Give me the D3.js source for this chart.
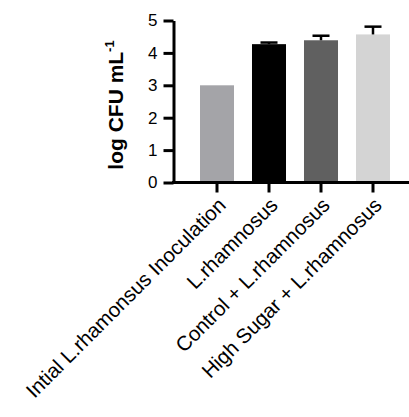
<!DOCTYPE html>
<html lang="en">
<head>
  <meta charset="UTF-8">
  <title>log CFU bar chart</title>
  <script src="https://d3js.org/d3.v7.min.js"></script>
  <style>
    body { margin: 0; background: #fff; }
    svg { display: block; font-family: Arial, "Liberation Sans", sans-serif; }
  </style>
</head>
<body>
  <div id="chart"></div>
  <script>
    var categories = [
      "Intial L.rhamonsus Inoculation",
      "L.rhamnosus",
      "Control + L.rhamnosus",
      "High Sugar + L.rhamnosus"
    ];
    var means = [3.0, 4.27, 4.39, 4.57];
    var errors = [0, 0.05, 0.14, 0.24];
    var barColors = ["#a4a4a8", "#000000", "#606060", "#d4d4d4"];
    var yTicks = [0, 1, 2, 3, 4, 5];

    var W = 409, H = 417;
    var svg = d3.select("#chart").append("svg")
      .attr("width", W)
      .attr("height", H);

    var axisX = 173.5, axisY = 182.5;

    var y = d3.scaleLinear().domain([0, 5]).range([axisY, 20.5]);
    var x = d3.scaleBand()
      .domain(categories)
      .range([191, 399])
      .paddingInner(0.346)
      .paddingOuter(0.173);

    // bars
    svg.selectAll("rect.bar")
      .data(categories)
      .enter().append("rect")
      .attr("class", "bar")
      .attr("x", function(d) { return x(d); })
      .attr("width", x.bandwidth())
      .attr("y", function(d, i) { return y(means[i]); })
      .attr("height", function(d, i) { return y(0) - y(means[i]); })
      .attr("fill", function(d, i) { return barColors[i]; });

    // error bars (upper only)
    var capW = x.bandwidth() / 2;
    categories.forEach(function(c, i) {
      if (!errors[i]) return;
      var cx = x(c) + x.bandwidth() / 2;
      var top = y(means[i] + errors[i]);
      var g = svg.append("g").attr("stroke", "#000").attr("stroke-width", 2.5);
      g.append("line").attr("x1", cx).attr("x2", cx)
        .attr("y1", y(means[i])).attr("y2", top);
      g.append("line").attr("x1", cx - capW / 2).attr("x2", cx + capW / 2)
        .attr("y1", top).attr("y2", top);
    });

    // y axis
    var yAxis = svg.append("g")
      .attr("transform", "translate(" + axisX + ",0)")
      .call(d3.axisLeft(y).tickValues(yTicks).tickFormat(d3.format("d"))
        .tickSize(10).tickPadding(6).tickSizeOuter(0));
    yAxis.select(".domain").attr("stroke-width", 3);
    yAxis.selectAll(".tick line").attr("stroke-width", 3);
    yAxis.selectAll(".tick text")
      .attr("font-size", "17px")
      .attr("font-family", "Arial, 'Liberation Sans', sans-serif")
      .attr("fill", "#000");

    // x axis
    var xAxis = svg.append("g")
      .attr("transform", "translate(0," + axisY + ")")
      .call(d3.axisBottom(x).tickSize(10).tickSizeOuter(0).tickFormat(""));
    xAxis.select(".domain").remove();
    xAxis.append("line")
      .attr("x1", axisX - 1.5).attr("x2", W)
      .attr("stroke", "#000").attr("stroke-width", 3);
    xAxis.selectAll(".tick line").attr("stroke-width", 3);

    // rotated category labels
    svg.selectAll("text.xlab")
      .data(categories)
      .enter().append("text")
      .attr("class", "xlab")
      .attr("text-anchor", "end")
      .attr("font-size", "20.5px")
      .attr("transform", function(d) {
        var cx = x(d) + x.bandwidth() / 2 + 10;
        return "translate(" + cx + "," + (axisY + 24) + ") rotate(-45)";
      })
      .text(function(d) { return d; });

    // y axis title
    var title = svg.append("text")
      .attr("transform", "translate(123," + 105 + ") rotate(-90)")
      .attr("text-anchor", "middle")
      .attr("font-size", "21px")
      .attr("font-weight", "bold");
    title.append("tspan").text("log CFU mL");
    title.append("tspan").attr("font-size", "13px").attr("dy", "-9").text("-1");
  </script>
</body>
</html>
